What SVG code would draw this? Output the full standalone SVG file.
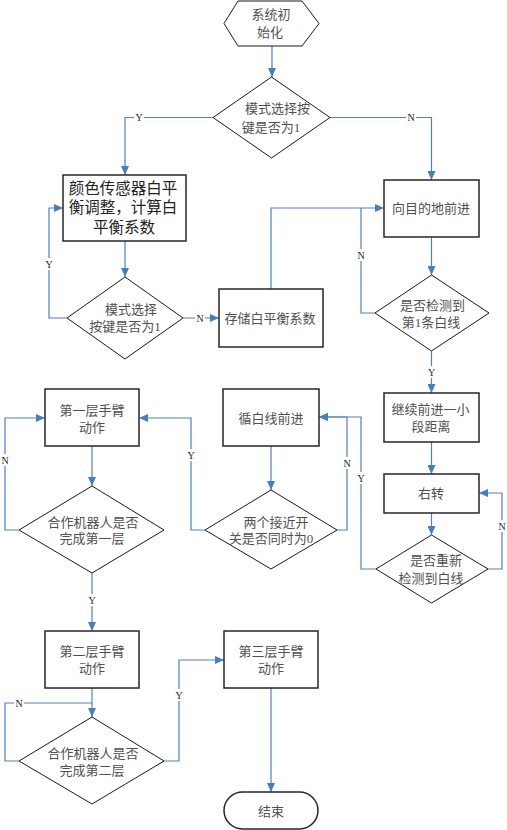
<svg xmlns="http://www.w3.org/2000/svg" width="507" height="830" viewBox="0 0 507 830">
<style>
.box{fill:#fff;stroke:#262626;stroke-width:1.5}
.dia{fill:#fff;stroke:#1a1a1a;stroke-width:1}
.t{font-family:"Liberation Serif","Noto Sans CJK SC",serif;font-size:13px;fill:#505050;text-anchor:middle}
.tb{font-family:"Liberation Serif","Noto Sans CJK SC",serif;font-size:15.5px;fill:#222;text-anchor:middle}
.c{fill:none;stroke:#4f81bd;stroke-width:1.2}
.lbl{font-family:"Liberation Serif",serif;font-size:10px;fill:#222;text-anchor:middle}
.bg{fill:#fff}
</style>
<defs>
<marker id="ah" markerUnits="userSpaceOnUse" markerWidth="9" markerHeight="8" refX="9" refY="4" orient="auto">
<path d="M0,0 L9,4 L0,8 z" fill="#4a7ebb"/>
</marker>
</defs>
<rect width="507" height="830" fill="#fff"/>
<g id="connectors">
<path class="c" d="M272,46 V77" marker-end="url(#ah)"/>
<path class="c" d="M213,117.5 H125 V175" marker-end="url(#ah)"/>
<path class="c" d="M330,117.5 H431.5 V180" marker-end="url(#ah)"/>
<path class="c" d="M125,241 V277" marker-end="url(#ah)"/>
<path class="c" d="M67,318 H49 V208 H63" marker-end="url(#ah)"/>
<path class="c" d="M183,318 H219" marker-end="url(#ah)"/>
<path class="c" d="M271,289 V208 H384" marker-end="url(#ah)"/>
<path class="c" d="M375,313 H361 V208"/>
<path class="c" d="M431.5,237 V275" marker-end="url(#ah)"/>
<path class="c" d="M431.5,351 V393" marker-end="url(#ah)"/>
<path class="c" d="M431.5,442 V474" marker-end="url(#ah)"/>
<path class="c" d="M431.5,513 V535" marker-end="url(#ah)"/>
<path class="c" d="M488,569 H502 V493 H479" marker-end="url(#ah)"/>
<path class="c" d="M376,569 H361 V417 H319" marker-end="url(#ah)"/>
<path class="c" d="M271,446 V490" marker-end="url(#ah)"/>
<path class="c" d="M337,530 H347 V417 H319" marker-end="url(#ah)"/>
<path class="c" d="M205,530 H191 V418 H139" marker-end="url(#ah)"/>
<path class="c" d="M92,446 V486" marker-end="url(#ah)"/>
<path class="c" d="M19,530 H5 V418 H45" marker-end="url(#ah)"/>
<path class="c" d="M92,573 V631" marker-end="url(#ah)"/>
<path class="c" d="M92,688 V717" marker-end="url(#ah)"/>
<path class="c" d="M19,761 H5 V703 H92"/>
<path class="c" d="M164,761 H179 V660 H224" marker-end="url(#ah)"/>
<path class="c" d="M271,688 V792" marker-end="url(#ah)"/>
<g id="labels">
<rect class="bg" x="134" y="112" width="10" height="11"/><text class="lbl" x="139" y="121">Y</text>
<rect class="bg" x="406" y="112" width="10" height="11"/><text class="lbl" x="411" y="121">N</text>
<rect class="bg" x="44" y="258" width="10" height="12"/><text class="lbl" x="49" y="268">Y</text>
<rect class="bg" x="195" y="313" width="10" height="11"/><text class="lbl" x="200" y="322">N</text>
<rect class="bg" x="356" y="249" width="10" height="12"/><text class="lbl" x="361" y="259">N</text>
<rect class="bg" x="426" y="366" width="10" height="12"/><text class="lbl" x="431.5" y="376">Y</text>
<rect class="bg" x="497" y="520" width="10" height="12"/><text class="lbl" x="502" y="530">N</text>
<rect class="bg" x="356" y="472" width="10" height="12"/><text class="lbl" x="361" y="482">Y</text>
<rect class="bg" x="342" y="457" width="10" height="12"/><text class="lbl" x="347" y="467">N</text>
<rect class="bg" x="186" y="449" width="10" height="12"/><text class="lbl" x="191" y="459">Y</text>
<rect class="bg" x="0" y="454" width="10" height="12"/><text class="lbl" x="5" y="464">N</text>
<rect class="bg" x="87" y="594" width="10" height="12"/><text class="lbl" x="92" y="604">Y</text>
<rect class="bg" x="14" y="698" width="10" height="11"/><text class="lbl" x="19" y="707">N</text>
<rect class="bg" x="174" y="689" width="10" height="12"/><text class="lbl" x="179" y="699">Y</text>
</g>
</g>
<g id="start">
<polygon class="dia" points="238,1 302,1 319,23.5 302,46 238,46 224,23.5"/>
<text class="t" x="271" y="18.5">系统初</text>
<text class="t" x="270" y="36.5">始化</text>
</g>
<g id="d1">
<polygon class="dia" points="271.5,77 330,117.5 271.5,158 213,117.5"/>
<text class="t" x="277.5" y="112.5">模式选择按</text>
<text class="t" x="271" y="131.5">键是否为1</text>
</g>
<g id="b1">
<rect class="box" x="63" y="175" width="123" height="66"/>
<text class="tb" x="123" y="193.5">颜色传感器白平</text>
<text class="tb" x="123" y="213">衡调整，计算白</text>
<text class="tb" x="124" y="232.5">平衡系数</text>
</g>
<g id="d2">
<polygon class="dia" points="125,277 183,318 125,359 67,318"/>
<text class="t" x="131" y="313.5">模式选择</text>
<text class="t" x="125" y="330.5">按键是否为1</text>
</g>
<g id="b2">
<rect class="box" x="219" y="289" width="104" height="58"/>
<text class="t" x="270" y="322.5">存储白平衡系数</text>
</g>
<g id="b3">
<rect class="box" x="384" y="180" width="95" height="57"/>
<text class="t" x="431" y="212.5">向目的地前进</text>
</g>
<g id="d3">
<polygon class="dia" points="431.5,275 489,313 431.5,351 375,313"/>
<text class="t" x="432.5" y="309.5">是否检测到</text>
<text class="t" x="431" y="326.5">第1条白线</text>
</g>
<g id="b4">
<rect class="box" x="384" y="393" width="95" height="49"/>
<text class="t" x="430.5" y="413.5">继续前进一小</text>
<text class="t" x="431" y="430.5">段距离</text>
</g>
<g id="b5">
<rect class="box" x="384" y="474" width="95" height="39"/>
<text class="t" x="431" y="497.5">右转</text>
</g>
<g id="d4">
<polygon class="dia" points="431.5,535 488,569 431.5,603 376,569"/>
<text class="t" x="436" y="564.5">是否重新</text>
<text class="t" x="431" y="582.5">检测到白线</text>
</g>
<g id="b6">
<rect class="box" x="223" y="389" width="96" height="57"/>
<text class="t" x="271" y="422.5">循白线前进</text>
</g>
<g id="d5">
<polygon class="dia" points="271,490 337,530 271,569 205,530"/>
<text class="t" x="276" y="526.5">两个接近开</text>
<text class="t" x="271" y="542.5">关是否同时为0</text>
</g>
<g id="b7">
<rect class="box" x="45" y="389" width="94" height="57"/>
<text class="t" x="92" y="414.5">第一层手臂</text>
<text class="t" x="92" y="431.5">动作</text>
</g>
<g id="d6">
<polygon class="dia" points="92,486 164,530 92,573 19,530"/>
<text class="t" x="93" y="526.5">合作机器人是否</text>
<text class="t" x="92" y="542.5">完成第一层</text>
</g>
<g id="b8">
<rect class="box" x="45" y="631" width="94" height="57"/>
<text class="t" x="92" y="655.5">第二层手臂</text>
<text class="t" x="92" y="672.5">动作</text>
</g>
<g id="d7">
<polygon class="dia" points="92,717 164,761 92,804 19,761"/>
<text class="t" x="93" y="757.5">合作机器人是否</text>
<text class="t" x="92" y="774.5">完成第二层</text>
</g>
<g id="b9">
<rect class="box" x="224" y="631" width="94" height="57"/>
<text class="t" x="271" y="655.5">第三层手臂</text>
<text class="t" x="271" y="672.5">动作</text>
</g>
<g id="end">
<rect class="box" x="224" y="792" width="94" height="37" rx="18.5" ry="18.5"/>
<text class="t" x="271" y="815.5">结束</text>
</g>
</svg>
